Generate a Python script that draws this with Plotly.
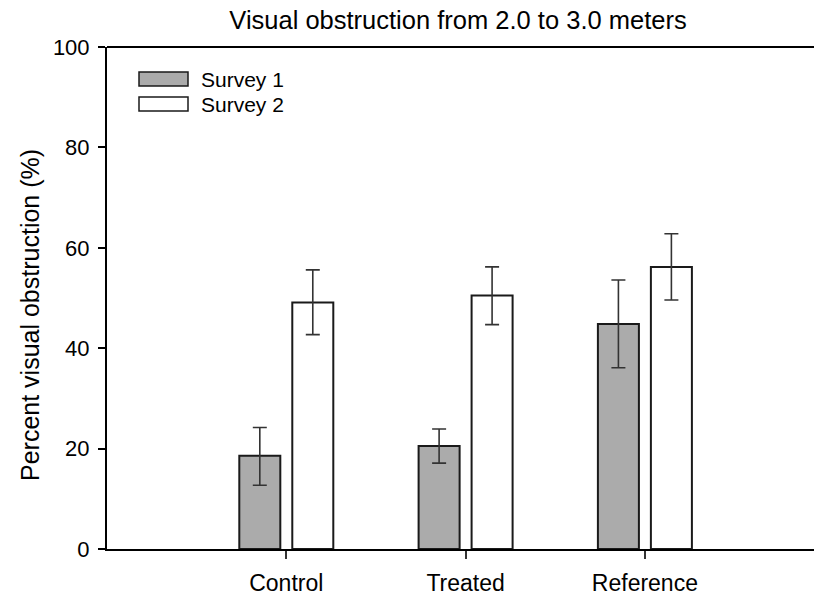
import plotly.graph_objects as go

# Survey data: mean percent visual obstruction (2.0-3.0 m) with error bar ends
categories = ["Control", "Treated", "Reference"]
survey1 = [18.6, 20.5, 44.8]
survey1_hi = [24.2, 23.9, 53.6]
survey1_lo = [12.7, 17.1, 36.1]
survey2 = [49.1, 50.5, 56.2]
survey2_hi = [55.6, 56.2, 62.8]
survey2_lo = [42.7, 44.7, 49.6]
y_ticks = [0, 20, 40, 60, 80, 100]

FONT = "Liberation Sans, Arial, sans-serif"


def err(vals, hi, lo):
    return dict(
        type="data",
        symmetric=False,
        array=[h - v for h, v in zip(hi, vals)],
        arrayminus=[v - l for v, l in zip(vals, lo)],
        color="#333333",
        thickness=1.6,
        width=7,
    )


fig = go.Figure()
fig.add_trace(go.Bar(
    name="Survey 1", x=categories, y=survey1,
    marker=dict(color="#ababab", line=dict(color="#1a1a1a", width=2)),
    error_y=err(survey1, survey1_hi, survey1_lo),
    showlegend=False,
))
fig.add_trace(go.Bar(
    name="Survey 2", x=categories, y=survey2,
    marker=dict(color="#ffffff", line=dict(color="#1a1a1a", width=2)),
    error_y=err(survey2, survey2_hi, survey2_lo),
    showlegend=False,
))

# The plot frame runs to the right edge of the figure
W, H = 814, 600
L, T, B = 107, 47, 51
PW = W - L
PH = H - T - B


def px_x(x):
    return (x - L) / PW


def px_y(y):
    return (H - B - y) / PH


# Legend drawn as wide swatches with labels in the upper-left corner
legend_items = [("Survey 1", "#ababab", 72, 86), ("Survey 2", "#ffffff", 97, 111)]
shapes = [
    # top edge of the frame (no right edge)
    dict(type="line", xref="paper", yref="paper", x0=0, x1=1, y0=1, y1=1,
         line=dict(color="#000", width=2)),
]
annotations = []
for label, color, top, bottom in legend_items:
    shapes.append(dict(type="rect", xref="paper", yref="paper",
                       x0=px_x(139), x1=px_x(188), y0=px_y(bottom), y1=px_y(top),
                       fillcolor=color, line=dict(color="#1a1a1a", width=1.5)))
    annotations.append(dict(xref="paper", yref="paper", x=px_x(199), y=px_y((top + bottom) / 2),
                            text=label, showarrow=False, xanchor="left", yanchor="middle",
                            font=dict(family=FONT, size=21, color="#000")))

# Y-axis title
annotations.append(dict(xref="paper", yref="paper", x=px_x(30), y=px_y(315),
                        text="Percent visual obstruction (%)", textangle=-90,
                        showarrow=False, xanchor="center", yanchor="middle",
                        font=dict(family=FONT, size=25, color="#000")))

# category spacing of ~179.3 px, first category ~180 px right of the y axis
span = PW / 179.3

fig.update_layout(
    width=W, height=H,
    margin=dict(l=L, r=0, t=T, b=B),
    paper_bgcolor="white", plot_bgcolor="white",
    barmode="group", bargap=0.409, bargroupgap=0.226,
    font=dict(family=FONT, size=22, color="#000"),
    title=dict(text="Visual obstruction from 2.0 to 3.0 meters",
               x=px_x(458), xref="paper", xanchor="center", y=1 - 20 / H, yanchor="middle",
               font=dict(family=FONT, size=25.5, color="#000")),
    xaxis=dict(range=[-1.0, -1.0 + span], showline=True, linecolor="#000", linewidth=2,
               mirror=False, ticks="outside", ticklen=8, tickwidth=1.5, tickcolor="#333",
               showgrid=False, zeroline=False, tickfont=dict(size=23),
               ticklabelstandoff=4),
    yaxis=dict(range=[0, 100], tickvals=y_ticks, showline=True, linecolor="#000",
               linewidth=2, ticks="outside", ticklen=7, tickwidth=1.5, tickcolor="#000",
               showgrid=False, zeroline=False, tickfont=dict(size=22),
               ticklabelstandoff=4),
    shapes=shapes, annotations=annotations,
)

fig.write_html(
    "out.html",
    config={"responsive": False, "displayModeBar": False},
    post_script="document.documentElement.style.overflow='hidden';"
                "document.body.style.overflow='hidden';document.body.style.margin='0';",
)
